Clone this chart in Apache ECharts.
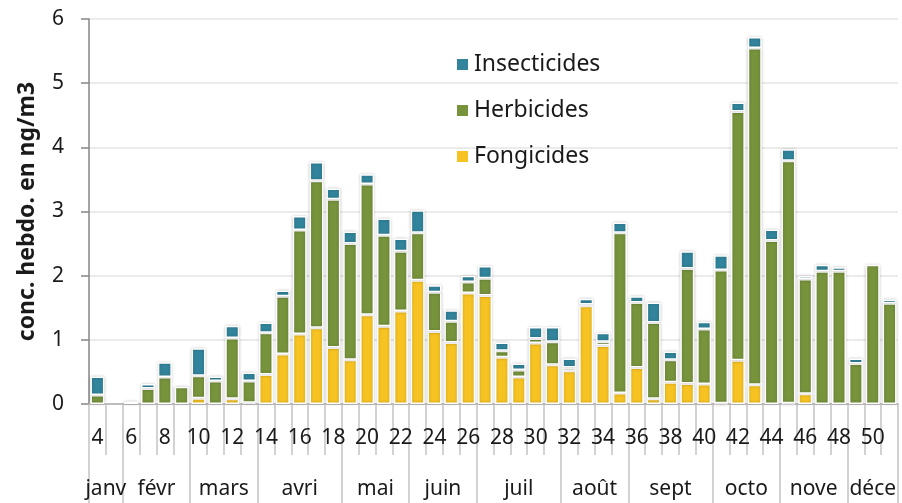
<!DOCTYPE html>
<html>
<head>
<meta charset="utf-8">
<script src="https://cdn.jsdelivr.net/npm/echarts@6/dist/echarts.min.js"></script>
<style>
  html, body { margin: 0; padding: 0; background: #fff; }
  #chart { width: 902px; height: 503px; }
</style>
</head>
<body>
<div id="chart"></div>
<script>
// semaines 4 a 51
const weeks = ['4','5','6','7','8','9','10','11','12','13','14','15','16','17','18','19','20','21','22','23','24','25','26','27','28','29','30','31','32','33','34','35','36','37','38','39','40','41','42','43','44','45','46','47','48','49','50','51']

const fongicides = [0, 0, 0, 0, 0, 0, 0.09, 0, 0.08, 0.02, 0.46, 0.78, 1.09, 1.19, 0.88, 0.69, 1.39, 1.21, 1.45, 1.93, 1.13, 0.96, 1.73, 1.69, 0.73, 0.42, 0.95, 0.61, 0.52, 1.53, 0.91, 0.17, 0.57, 0.08, 0.34, 0.32, 0.31, 0.01, 0.68, 0.30, 0, 0.01, 0.16, 0, 0, 0, 0, 0]
const herbicides = [0.14, 0, 0.04, 0.24, 0.42, 0.27, 0.35, 0.36, 0.95, 0.34, 0.65, 0.90, 1.62, 2.29, 2.31, 1.81, 2.04, 1.42, 0.93, 0.74, 0.61, 0.33, 0.17, 0.27, 0.10, 0.11, 0.07, 0.36, 0.05, 0.02, 0.06, 2.50, 1.01, 1.19, 0.35, 1.79, 0.86, 2.08, 3.88, 5.25, 2.55, 3.78, 1.79, 2.07, 2.07, 0.63, 2.17, 1.57]
const insecticides = [0.29, 0, 0, 0.07, 0.23, 0, 0.43, 0.07, 0.19, 0.13, 0.16, 0.09, 0.22, 0.29, 0.17, 0.19, 0.15, 0.26, 0.20, 0.35, 0.11, 0.17, 0.10, 0.19, 0.13, 0.10, 0.18, 0.23, 0.14, 0.09, 0.14, 0.16, 0.10, 0.31, 0.13, 0.27, 0.11, 0.23, 0.14, 0.17, 0.17, 0.18, 0.05, 0.10, 0.06, 0.08, 0, 0.06]

const months = ['janv', 'févr', 'mars', 'avri', 'mai', 'juin', 'juil', 'août', 'sept', 'octo', 'nove', 'déce']
// premiere semaine de chaque mois, puis la fin
const monthStartWeek = [4, 6, 10, 14, 19, 23, 27, 32, 36, 41, 45, 49, 52]

const firstWeek = Number(weeks[0])
const monthEdges = monthStartWeek.map(w => w - firstWeek)
const monthCenters = months.map((m, i) => (monthEdges[i] + monthEdges[i + 1]) / 2)
const monthByCenter = {}
monthCenters.forEach((c, i) => { monthByCenter[c] = months[i] })

// comme Excel : pas de barre quand la valeur est nulle
const noZero = (arr) => arr.map(v => (v === 0 ? '-' : v))

const font = 'Noto Sans'
const tickGray = '#c4c4c4'
const barStyle = (color) => ({
  color: color,
  borderColor: '#ffffff',
  borderWidth: 1.5,
  shadowBlur: 3,
  shadowColor: 'rgba(0,0,0,0.22)'
})

const chart = echarts.init(document.getElementById('chart'))
chart.setOption({
  animation: false,
  textStyle: { fontFamily: font },
  grid: { left: 89, right: 4, top: 19, bottom: 99 },
  legend: {
    data: ['Insecticides', 'Herbicides', 'Fongicides'],
    orient: 'vertical',
    left: 450,
    top: 48,
    itemWidth: 13,
    itemHeight: 13,
    itemGap: 23,
    icon: 'rect',
    textStyle: { fontSize: 23, color: '#1a1a1a', fontFamily: font }
  },
  xAxis: [
    {
      type: 'category',
      data: weeks,
      axisLine: { lineStyle: { color: '#bdbdbd', width: 2 } },
      axisTick: { show: true, interval: 0, length: 51, lineStyle: { color: tickGray, width: 1.5 } },
      axisLabel: {
        interval: (index, value) => Number(value) % 2 === 0,
        fontSize: 21,
        color: '#1a1a1a',
        margin: 24
      }
    },
    {
      type: 'value',
      min: 0,
      max: monthEdges[monthEdges.length - 1],
      position: 'bottom',
      splitLine: { show: false },
      axisLine: { show: false },
      axisTick: { show: true, customValues: monthEdges, length: 99, lineStyle: { color: tickGray, width: 1.5 } },
      axisLabel: {
        customValues: monthCenters,
        formatter: (v) => monthByCenter[v] || '',
        fontSize: 21,
        color: '#1a1a1a',
        margin: 75
      }
    }
  ],
  yAxis: {
    type: 'value',
    min: 0,
    max: 6,
    interval: 1,
    name: 'conc. hebdo. en ng/m3',
    nameLocation: 'middle',
    nameGap: 50,
    nameTextStyle: { fontSize: 23, fontWeight: 'bold', color: '#1a1a1a', fontFamily: font },
    axisLine: { show: true, lineStyle: { color: '#868686', width: 1.5 } },
    axisTick: { show: true, length: 8, lineStyle: { color: '#868686', width: 1.5 } },
    axisLabel: { fontSize: 21, color: '#1a1a1a', margin: 25 },
    splitLine: { lineStyle: { color: '#ebebeb', width: 2 } }
  },
  series: [
    { name: 'Fongicides', type: 'bar', stack: 'total', barWidth: 14, data: noZero(fongicides), itemStyle: barStyle('#f6c323') },
    { name: 'Herbicides', type: 'bar', stack: 'total', barWidth: 14, data: noZero(herbicides), itemStyle: barStyle('#77933c') },
    { name: 'Insecticides', type: 'bar', stack: 'total', barWidth: 14, data: noZero(insecticides), itemStyle: barStyle('#31849b') }
  ]
})
</script>
</body>
</html>
